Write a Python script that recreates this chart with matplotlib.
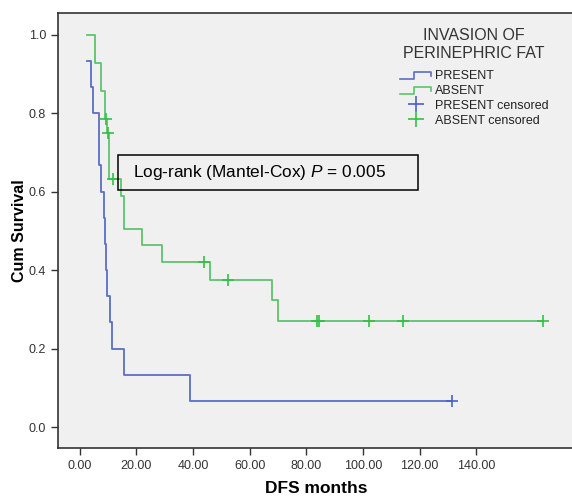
import matplotlib
matplotlib.use("Agg")
import matplotlib.pyplot as plt
from matplotlib.legend_handler import HandlerBase
from matplotlib.lines import Line2D
from matplotlib.patches import Rectangle

plt.rcParams['font.family'] = ['Liberation Sans', 'DejaVu Sans']
plt.rcParams['mathtext.fontset'] = 'custom'
plt.rcParams['mathtext.rm'] = 'Liberation Sans'
plt.rcParams['mathtext.it'] = 'Liberation Sans:italic'

# Kaplan-Meier steps (months, survival)
present_t = [2.5, 4.0, 4.7, 6.7, 7.6, 8.5, 9.0, 9.3, 9.5, 10.6, 11.4, 15.6, 38.9, 131.3]
present_s = [0.933, 0.867, 0.800, 0.667, 0.600, 0.533, 0.467, 0.400, 0.333, 0.267, 0.200, 0.133, 0.067, 0.067]
present_cens_t = [131.3]
present_cens_s = [0.067]

absent_t = [2.5, 5.4, 7.4, 8.8, 9.6, 10.2, 14.4, 15.5, 22.0, 29.1, 46.0, 68.0, 69.8, 163.7]
absent_s = [1.0, 0.929, 0.857, 0.786, 0.750, 0.632, 0.590, 0.505, 0.465, 0.422, 0.375, 0.323, 0.271, 0.271]
absent_cens_t = [9.4, 10.0, 11.8, 43.8, 52.2, 83.6, 84.5, 102.0, 114.2, 163.7]
absent_cens_s = [0.786, 0.750, 0.632, 0.422, 0.375, 0.271, 0.271, 0.271, 0.271, 0.271]

xticks = [0, 20, 40, 60, 80, 100, 120, 140]
yticks = [0.0, 0.2, 0.4, 0.6, 0.8, 1.0]

blue = '#5b6fc4'
green = '#5cc46c'
blue_mark = '#4a60d0'
green_mark = '#33c04a'


class StepHandler(HandlerBase):
    def create_artists(self, legend, orig, xd, yd, w, h, fontsize, trans):
        xs = [xd, xd + w * 0.45, xd + w * 0.45, xd + w, xd + w]
        ys = [yd + h * 0.05, yd + h * 0.05, yd + h * 0.8, yd + h * 0.8, yd + h * 0.35]
        ln = Line2D(xs, ys, color=orig.get_color(), lw=1.2, transform=trans)
        return [ln]


fig = plt.figure(figsize=(5.72, 4.97), dpi=100)
ax = fig.add_axes([0.101, 0.099, 0.905, 0.875])
ax.set_facecolor('#f0f0f0')

l1, = ax.step(present_t, present_s, where='post', color=blue, lw=1.3)
l2, = ax.step(absent_t, absent_s, where='post', color=green, lw=1.3)
c1, = ax.plot(present_cens_t, present_cens_s, '+', color=blue_mark, ms=8, mew=1.2, ls='none')
c2, = ax.plot(absent_cens_t, absent_cens_s, '+', color=green_mark, ms=8, mew=1.2, ls='none')

ax.set_xlim(-7.8, 175)
ax.set_ylim(-0.053, 1.056)
ax.set_xticks(xticks)
ax.set_xticklabels(['%.2f' % v for v in xticks])
ax.set_yticks(yticks)
ax.set_yticklabels(['%.1f' % v for v in yticks])
ax.tick_params(axis='both', labelsize=9, colors='#333333', length=5, width=1)
ax.spines['right'].set_visible(False)
for s in ['left', 'top', 'bottom']:
    ax.spines[s].set_linewidth(1.2)
    ax.spines[s].set_color('#333333')

ax.set_xlabel('DFS months', fontsize=12.5, fontweight='bold', labelpad=7)
ax.set_ylabel('Cum Survival', fontsize=11.5, fontweight='bold', labelpad=1)

ax.add_patch(Rectangle((13.5, 0.605), 106, 0.089, fill=False, ec='black', lw=1.1, zorder=5))
ax.text(18.8, 0.650, 'Log-rank (Mantel-Cox) $\\it{P}$ = 0.005', fontsize=12.4, va='center', zorder=6)

leg = ax.legend([l1, l2, c1, c2],
                ['PRESENT', 'ABSENT', 'PRESENT censored', 'ABSENT censored'],
                handler_map={l1: StepHandler(), l2: StepHandler()},
                title='INVASION OF\nPERINEPHRIC FAT', loc='upper right',
                bbox_to_anchor=(0.948, 0.965), borderaxespad=0, borderpad=0,
                frameon=False, fontsize=9, title_fontsize=11.5,
                handlelength=2.5, handletextpad=0.3, markerscale=1.5,
                labelspacing=0.22, alignment='center')
leg.get_title().set_color('#333333')
leg.get_title().set_multialignment('center')
leg._legend_box.sep = 7
for t in leg.get_texts():
    t.set_color('#222222')

fig.savefig('out.png', dpi=100)
